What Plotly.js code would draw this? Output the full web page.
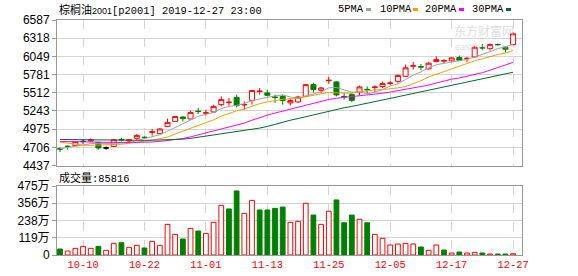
<!DOCTYPE html>
<html><head><meta charset="utf-8">
<script src="https://cdn.plot.ly/plotly-3.0.1.min.js"></script>
<style>html,body{margin:0;padding:0;background:#fff;}#chart{width:578px;height:276px;}</style>
</head><body><div id="chart"></div>
<script>
const dates = ['09-30','10-08','10-09','10-10','10-11','10-14','10-15','10-16','10-17','10-18',
'10-21','10-22','10-23','10-24','10-25','10-28','10-29','10-30','10-31','11-01',
'11-04','11-05','11-06','11-07','11-08','11-11','11-12','11-13','11-14','11-15',
'11-18','11-19','11-20','11-21','11-22','11-25','11-26','11-27','11-28','11-29',
'12-02','12-03','12-04','12-05','12-06','12-09','12-10','12-11','12-12','12-13',
'12-16','12-17','12-18','12-19','12-20','12-23','12-24','12-25','12-26','12-27'];
const open = [4684,4722,4730,4793,4799,4778,4696,4719,4822,4799,
4838,4855,4925,4907,5015,5089,5154,5125,5240,5210,
5228,5336,5366,5444,5332,5400,5530,5510,5448,5459,
5362,5376,5459,5632,5548,5690,5672,5458,5484,5518,
5562,5590,5603,5650,5681,5755,5905,5898,5865,5973,
5980,5983,6032,6014,6042,6178,6165,6226,6184,6224];
const high = [4708,4734,4795,4829,4838,4784,4719,4825,4848,4829,
4903,4868,4977,4985,5129,5170,5160,5248,5288,5262,
5336,5459,5436,5484,5385,5558,5583,5558,5484,5484,
5425,5470,5643,5658,5598,5746,5681,5510,5510,5618,
5607,5622,5678,5681,5780,5928,5968,5938,5968,6051,
6007,6036,6062,6042,6199,6235,6239,6239,6199,6406];
const low = [4636,4671,4725,4759,4784,4671,4671,4715,4793,4784,
4818,4829,4878,4898,5006,5085,5089,5120,5199,5178,
5214,5311,5322,5296,5262,5336,5484,5459,5362,5336,
5322,5362,5450,5515,5510,5643,5459,5410,5370,5474,
5500,5524,5583,5622,5658,5745,5854,5844,5854,5962,
5948,5977,5987,5968,6036,6140,6135,6209,6106,6214];
const close = [4680,4718,4789,4793,4818,4696,4696,4818,4815,4818,
4882,4850,4935,4977,5074,5160,5129,5222,5234,5216,
5311,5410,5372,5322,5338,5544,5536,5474,5444,5396,
5396,5450,5632,5560,5583,5696,5480,5452,5400,5598,
5556,5596,5647,5656,5768,5880,5910,5892,5948,6002,
5986,6027,5992,6020,6184,6173,6224,6222,6150,6383];
const volume = [413000,275000,459000,597000,459000,597000,321000,803000,849000,528000,
665000,482000,941000,665000,2110000,1420000,1100000,1830000,1650000,1490000,
2250000,3420000,3170000,4410000,2870000,3760000,3100000,3100000,3210000,3300000,
2250000,2320000,3560000,2750000,2110000,3010000,3790000,2220000,2750000,2460000,
2220000,1420000,1150000,688000,757000,803000,757000,551000,321000,688000,
344000,138000,207000,138000,184000,138000,69000,69000,69000,85816];
const volUp = [0,1,1,1,1,0,1,1,0,1, 1,0,1,1,1,1,0,1,0,1, 1,1,0,0,1,1,0,0,0,0,
1,1,1,0,1,1,0,0,0,1, 0,1,1,1,1,1,1,0,1,1, 0,1,0,1,1,0,1,0,0,1];
const ma5 = [4686,4700,4722,4740,4760,4763,4758,4764,4769,4769,
4806,4837,4860,4892,4944,4999,5055,5112,5164,5192,
5222,5279,5309,5326,5351,5397,5422,5443,5467,5479,
5449,5432,5464,5487,5524,5584,5590,5554,5522,5525,
5497,5520,5559,5611,5645,5709,5772,5821,5880,5926,
5948,5971,5991,6005,6042,6079,6119,6165,6191,6230];
const ma10 = [4782,4765,4750,4738,4735,4737,4738,4742,4752,4764,
4784,4798,4812,4831,4856,4903,4946,4986,5028,5068,
5111,5167,5211,5245,5271,5310,5351,5376,5397,5415,
5423,5427,5453,5477,5502,5517,5511,5509,5505,5525,
5541,5555,5557,5566,5585,5603,5646,5690,5745,5786,
5829,5872,5906,5943,5984,6013,6045,6078,6098,6136];
const ma20 = [4793,4790,4786,4783,4781,4779,4777,4776,4776,4777,
4778,4780,4784,4793,4805,4820,4836,4860,4888,4916,
4948,4982,5011,5038,5064,5106,5148,5181,5212,5241,
5267,5297,5332,5361,5386,5413,5431,5442,5451,5470,
5482,5491,5505,5522,5543,5560,5579,5600,5625,5655,
5685,5713,5731,5754,5785,5808,5846,5884,5922,5961];
const ma30 = [4822,4820,4818,4816,4814,4812,4810,4809,4808,4808,
4808,4809,4810,4812,4815,4820,4826,4838,4855,4872,
4886,4900,4915,4931,4948,4968,4990,5014,5048,5082,
5106,5131,5159,5184,5210,5243,5269,5290,5310,5336,
5358,5383,5407,5429,5453,5477,5503,5525,5549,5575,
5597,5618,5639,5662,5690,5711,5734,5759,5783,5815];
const tickLabels = ['10-10','10-22','11-01','11-13','11-25','12-05','12-17','12-27'];
const priceTicks = [4437,4706,4975,5243,5512,5781,6049,6318,6587];
const volTicks = [0,1187500,2375000,3562500,4750000];
const volTickText = ['0','119万','238万','356万','475万'];
const maNames = ['5PMA','10PMA','20PMA','30PMA'];
const maColors = ['#a0a0a0','#f0a000','#ff00ff','#006a30'];
const titleText = '棕榈油2001[p2001] 2019-12-27 23:00';
const volTitle = '成交量:85816';

const RED = '#ff0000', GREEN = '#008000';
const idx = dates.map((d, i) => i);
const tickvals = tickLabels.map(t => dates.indexOf(t));

function candles(ids, color, fill) {
  return {
    type: 'candlestick', x: ids,
    open: ids.map(i => open[i]), high: ids.map(i => high[i]),
    low: ids.map(i => low[i]), close: ids.map(i => close[i]),
    increasing: {line: {color: color, width: 1}, fillcolor: fill},
    decreasing: {line: {color: color, width: 1}, fillcolor: fill},
    whiskerwidth: 0, hoverinfo: 'skip', showlegend: false, xaxis: 'x', yaxis: 'y'
  };
}
const traces = [];
const mas = [ma5, ma10, ma20, ma30];
mas.forEach((m, k) => traces.push({
  type: 'scatter', mode: 'lines', x: idx, y: m, name: maNames[k],
  line: {color: maColors[k], width: 1}, hoverinfo: 'skip', showlegend: false, xaxis: 'x', yaxis: 'y'
}));
traces.push(candles(idx.filter(i => close[i] > open[i]), RED, '#ffffff'));
traces.push(candles(idx.filter(i => close[i] < open[i]), GREEN, GREEN));
traces.push(candles(idx.filter(i => close[i] === open[i]), '#000000', '#000000'));
traces.push({
  type: 'bar', x: idx, y: volume, width: 0.62, xaxis: 'x2', yaxis: 'y2',
  marker: {color: volUp.map(u => u ? '#ffffff' : GREEN),
           line: {color: volUp.map(u => u ? RED : GREEN), width: 1}},
  hoverinfo: 'skip', showlegend: false
});

const GRID = '#d4d4d4', FRAME = '#999999';
const W = 465, H = 235, L = 57, T = 20;
const px = x => (x - L) / W;
const py = y => (T + H - y) / H;

const annotations = [
  {xref: 'paper', yref: 'paper', x: px(57), y: py(9), xanchor: 'left', yanchor: 'middle', showarrow: false,
   text: '<span style="font-family:\'Noto Sans CJK SC\';font-size:11px">棕榈油</span>' +
         '<span style="font-family:\'Liberation Sans\';font-size:9px">2001</span>' +
         '<span style="font-family:\'Liberation Mono\';font-size:10.4px">' + titleText.slice(7) + '</span>',
   font: {family: 'Liberation Mono', size: 10.4, color: '#000'}},
  {xref: 'paper', yref: 'paper', x: px(57), y: py(177), xanchor: 'left', yanchor: 'middle', showarrow: false,
   text: '<span style="font-family:\'Noto Sans CJK SC\';font-size:11px">' + volTitle.slice(0, 3) + '</span>' + volTitle.slice(3),
   font: {family: 'Liberation Mono', size: 10.4, color: '#000'}},
  {xref: 'paper', yref: 'paper', x: px(484), y: py(31), xanchor: 'center', yanchor: 'middle', showarrow: false,
   borderpad: 0, text: '东方财富网', font: {family: 'Noto Sans CJK SC', size: 12, color: 'rgba(200,200,200,0.6)'}},
  {xref: 'paper', yref: 'paper', x: px(486), y: py(47), xanchor: 'center', yanchor: 'middle', showarrow: false,
   borderpad: 0, text: 'eastmoney.com', font: {family: 'Liberation Sans', size: 9, color: 'rgba(200,200,200,0.6)'}}
];
const legendX = [336, 378, 423, 470];
const swatchX = [366, 413, 459, 506];
const shapes = [];
maNames.forEach((n, k) => {
  annotations.push({xref: 'paper', yref: 'paper', x: px(legendX[k]), y: py(9), xanchor: 'left', yanchor: 'middle',
    showarrow: false, text: n, font: {family: 'Liberation Mono', size: 10.4, color: '#000'}});
  shapes.push({type: 'rect', xref: 'paper', yref: 'paper', x0: px(swatchX[k]), x1: px(swatchX[k] + 5),
    y0: py(11), y1: py(8), fillcolor: maColors[k], line: {width: 0}});
});

const xCommon = {
  range: [-0.39, 60.16], tickvals: tickvals, ticktext: tickLabels,
  showgrid: true, gridcolor: GRID, griddash: 'dash', gridwidth: 1, zeroline: false,
  showline: true, mirror: true, linecolor: FRAME, linewidth: 1, ticks: '', fixedrange: true
};
const layout = {
  width: 578, height: 276, margin: {l: 57, r: 56, t: 20, b: 21},
  paper_bgcolor: '#ffffff', plot_bgcolor: '#ffffff', showlegend: false,
  boxgap: 0.35, boxgroupgap: 0,
  xaxis: Object.assign({}, xCommon, {anchor: 'y', showticklabels: false, rangeslider: {visible: false}}),
  xaxis2: Object.assign({}, xCommon, {anchor: 'y2', matches: 'x', showticklabels: true,
    tickfont: {family: 'Liberation Mono', size: 10.4, color: RED}}),
  yaxis: {domain: [(255 - 165.5) / H, 1], range: [priceTicks[0], priceTicks[priceTicks.length - 1]],
    tickvals: priceTicks, ticktext: priceTicks.map(String),
    showgrid: true, gridcolor: GRID, zeroline: false, showline: true, mirror: true, linecolor: FRAME,
    ticks: 'outside', ticklen: 4, tickcolor: FRAME, tickfont: {family: 'Liberation Sans', size: 12, color: '#000'}},
  yaxis2: {domain: [0, (255 - 186) / H], range: [volTicks[0], volTicks[volTicks.length - 1]],
    tickvals: volTicks, ticktext: volTickText,
    showgrid: true, gridcolor: GRID, zeroline: false, showline: true, mirror: true, linecolor: FRAME,
    ticks: 'outside', ticklen: 4, tickcolor: FRAME, tickfont: {family: 'Liberation Sans, Noto Sans CJK SC', size: 12, color: '#000'}},
  annotations: annotations, shapes: shapes
};
Plotly.newPlot('chart', traces, layout, {displayModeBar: false, staticPlot: true});
</script></body></html>
